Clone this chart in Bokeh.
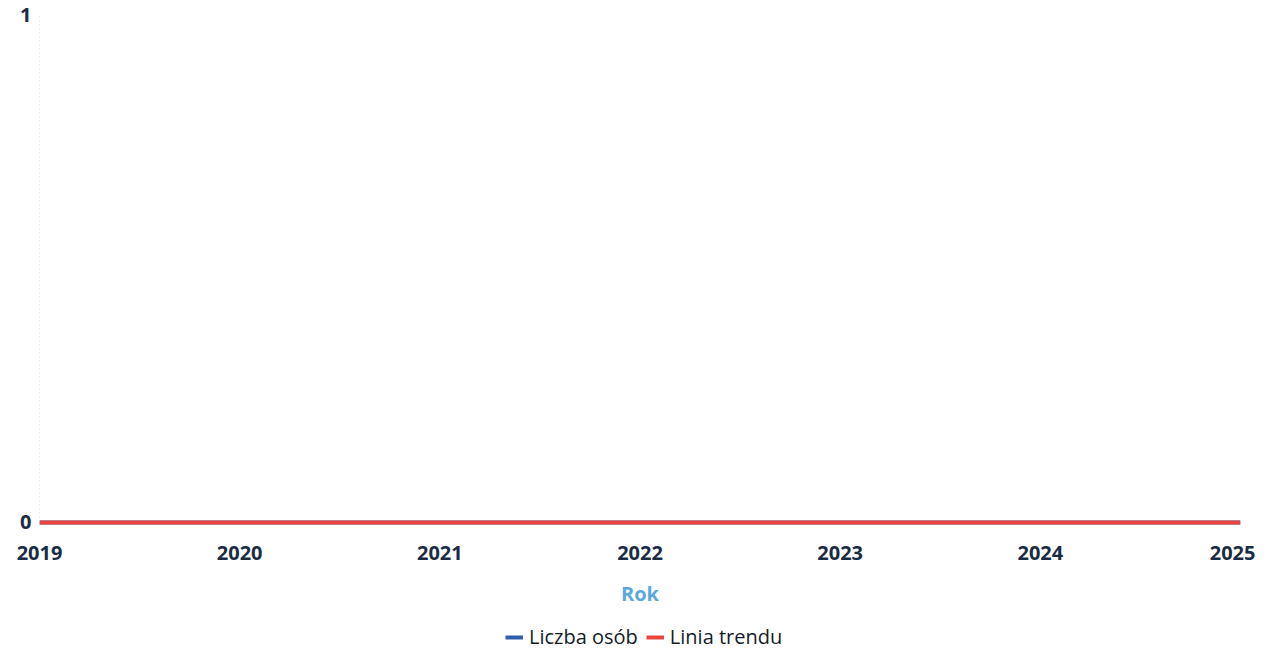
from bokeh.plotting import figure
from bokeh.layouts import column
from bokeh.models import Range1d, FixedTicker, Legend, LegendItem
from bokeh.embed import file_html
from bokeh.resources import INLINE

years = [2019, 2020, 2021, 2022, 2023, 2024, 2025]
liczba_osob = [0, 0, 0, 0, 0, 0, 0]
linia_trendu = [0, 0, 0, 0, 0, 0, 0]
y_ticks = [0, 1]
series_names = ["Liczba osób", "Linia trendu"]
series_colors = ["#2f5fa8", "#e8473f"]

FONT = "Open Sans"
TICK_COLOR = "#1a2c44"

p = figure(frame_width=1201, frame_height=511, output_backend="svg", toolbar_location=None,
           x_range=Range1d(2019, 2025), y_range=Range1d(-0.006, 1),
           min_border_left=39, min_border_right=15, min_border_top=14, min_border_bottom=98)
p.outline_line_color = None
p.background_fill_color = "white"
p.border_fill_color = "white"
p.xgrid.grid_line_color = None
p.ygrid.grid_line_color = None

p.line(years, liczba_osob, line_color=series_colors[0], line_width=4)
p.line(years, linia_trendu, line_color=series_colors[1], line_width=4)

p.xaxis.ticker = FixedTicker(ticks=years)
p.xaxis.axis_line_color = None
p.xaxis.major_tick_line_color = None
p.xaxis.minor_tick_line_color = None
p.xaxis.major_tick_out = 0
p.xaxis.major_label_standoff = 20
p.xaxis.major_label_text_font = FONT
p.xaxis.major_label_text_font_size = "20px"
p.xaxis.major_label_text_font_style = "bold"
p.xaxis.major_label_text_color = TICK_COLOR
p.xaxis.axis_label = "Rok"
p.xaxis.axis_label_text_font = FONT
p.xaxis.axis_label_text_font_size = "20px"
p.xaxis.axis_label_text_font_style = "bold"
p.xaxis.axis_label_text_color = "#5aa8e0"
p.xaxis.axis_label_standoff = 17

p.yaxis.ticker = FixedTicker(ticks=y_ticks)
p.yaxis.axis_line_color = "#d8d8d8"
p.yaxis.axis_line_dash = "1 3"
p.yaxis.major_tick_line_color = None
p.yaxis.minor_tick_line_color = None
p.yaxis.major_tick_out = 0
p.yaxis.major_label_standoff = 8
p.yaxis.major_label_text_font = FONT
p.yaxis.major_label_text_font_size = "20px"
p.yaxis.major_label_text_font_style = "bold"
p.yaxis.major_label_text_color = TICK_COLOR

# legend strip below the chart
lf = figure(width=1255, height=33, output_backend="svg", toolbar_location=None,
            x_range=Range1d(0, 1), y_range=Range1d(0, 1),
            x_axis_type=None, y_axis_type=None, min_border=0)
lf.outline_line_color = None
lf.xgrid.grid_line_color = None
lf.ygrid.grid_line_color = None
items = []
for name, col in zip(series_names, series_colors):
    rr = lf.line([-5, -4], [-5, -4], line_color=col, line_width=4)
    items.append(LegendItem(label=name, renderers=[rr]))
legend = Legend(items=items, orientation="horizontal", location=(466, 6),
                label_text_font=FONT, label_text_font_size="20px",
                label_text_color="#141c28", label_standoff=6,
                glyph_width=18, glyph_height=20, spacing=8, label_height=20,
                padding=0, margin=0, border_line_alpha=0, background_fill_alpha=0)
lf.add_layout(legend, "center")

layout = column(p, lf, spacing=0)
open("out.html", "w").write(file_html(layout, INLINE))
